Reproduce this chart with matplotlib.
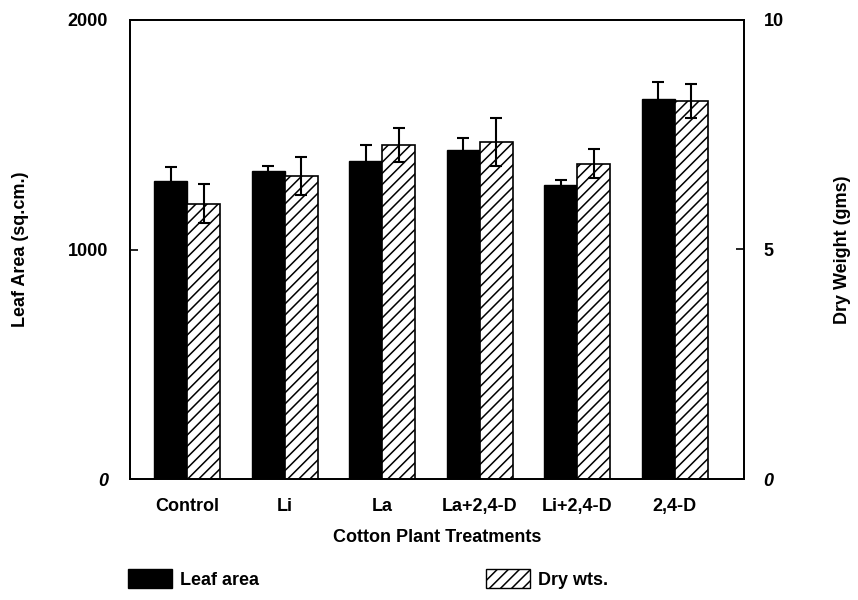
import numpy as np
import matplotlib
matplotlib.use('Agg')
import matplotlib.pyplot as plt
from matplotlib.patches import Patch

plt.rcParams.update({
    'font.family': ['Liberation Sans', 'DejaVu Sans'],
    'font.size': 13, 'font.weight': 'bold', 'axes.labelweight': 'bold',
    'hatch.linewidth': 1.1,
})

# ── Data ──────────────────────────────────────────────────────────────
treatments = ['Control', 'Li', 'La', 'La+2,4-D', 'Li+2,4-D', '2,4-D']
leaf_area = [1300, 1340, 1385, 1435, 1280, 1655]       # sq.cm.
leaf_err = [60, 25, 70, 50, 25, 77]
dry_wt = [6.0, 6.6, 7.27, 7.34, 6.87, 8.23]            # gms
dry_err = [0.42, 0.41, 0.37, 0.52, 0.31, 0.37]

x = np.arange(len(treatments))
w = 0.34

fig = plt.figure(figsize=(8.58, 6.0), dpi=100)
ax = fig.add_axes([130 / 858, 121 / 600, 614 / 858, 459 / 600])
ax2 = ax.twinx()

err_kw = dict(ecolor='black', elinewidth=1.5, capsize=4, capthick=1.5)
ax.bar(x - w / 2, leaf_area, w, color='black', edgecolor='black',
       yerr=leaf_err, error_kw=err_kw)
ax2.bar(x + w / 2, dry_wt, w, color='white', edgecolor='black', linewidth=1.2,
        hatch='///', yerr=dry_err, error_kw=err_kw)

ax.set_xlim(-0.586, 5.709)
ax.set_ylim(0, 2000)
ax2.set_ylim(0, 10)
ax.set_yticks([0, 1000, 2000])
ax2.set_yticks([0, 5, 10])
ax.set_yticklabels(['0', '1000', '2000'])
ax2.set_yticklabels(['0', '5', '10'])
ax.get_yticklabels()[0].set_style('italic')
ax2.get_yticklabels()[0].set_style('italic')

ax.set_xticks(x)
ax.set_xticklabels(treatments)
ax.tick_params(axis='x', length=0, pad=14)
ax.tick_params(axis='y', direction='in', length=6, width=1.2, pad=16)
ax2.tick_params(axis='y', direction='in', length=6, width=1.2, pad=14)
for a in (ax, ax2):
    for s in a.spines.values():
        s.set_linewidth(1.3)

ax.set_xlabel('Cotton Plant Treatments', labelpad=10)
ax.set_ylabel('Leaf Area (sq.cm.)', labelpad=28)
ax2.set_ylabel('Dry Weight (gms)', rotation=90, labelpad=36)

handles = [Patch(facecolor='black', edgecolor='black'),
           Patch(facecolor='white', edgecolor='black', hatch='///')]
fig.legend(handles, ['Leaf area', 'Dry wts.'], ncol=2, frameon=False,
           loc='lower left', bbox_to_anchor=(112 / 858, -0.008),
           handlelength=2.4, handleheight=1.3, handletextpad=0.45,
           columnspacing=12.6, fontsize=13)

fig.savefig('out.png', dpi=100)
